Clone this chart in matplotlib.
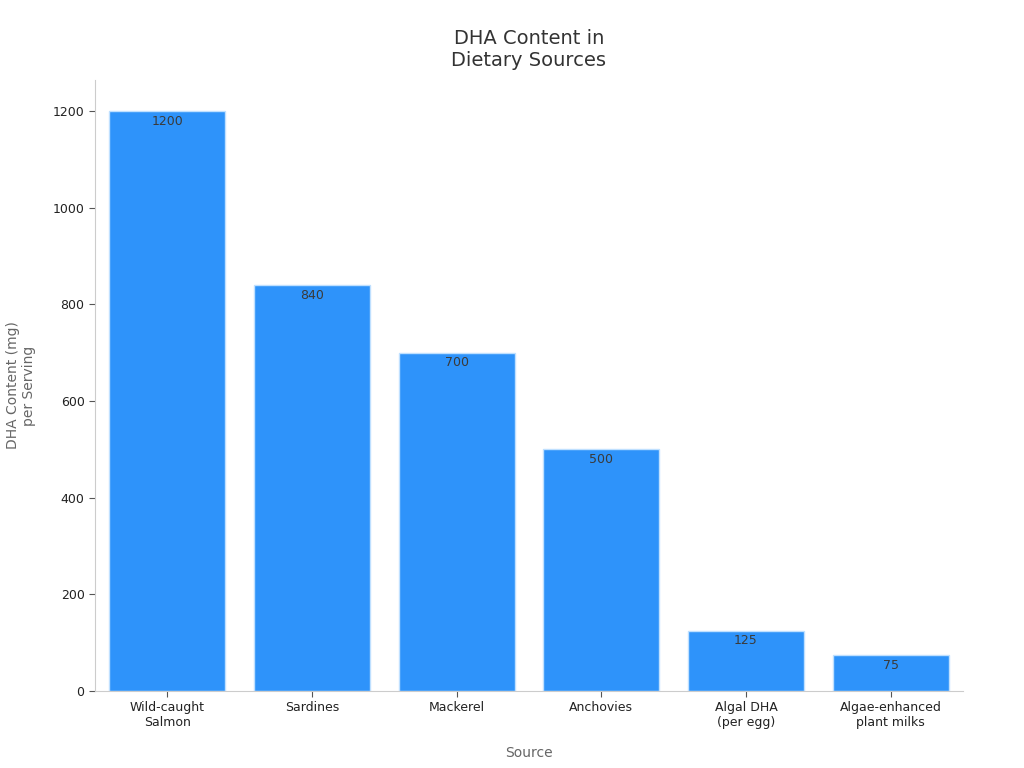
import numpy as np
import matplotlib.pyplot as plt

sources = ["Wild-caught\nSalmon", "Sardines", "Mackerel", "Anchovies",
           "Algal DHA\n(per egg)", "Algae-enhanced\nplant milks"]
dha_mg = [1200, 840, 700, 500, 125, 75]

fig = plt.figure(figsize=(10.24, 7.68), dpi=100)
ax = fig.add_axes([0.0928, 0.1003, 0.8476, 0.7955])

x = np.arange(len(sources))
bars = ax.bar(x, dha_mg, width=0.8, color="#2E93FA", edgecolor="#BFE0FF", linewidth=1)

for b, v in zip(bars, dha_mg):
    ax.text(b.get_x() + b.get_width() / 2, v - 8, str(v), ha="center", va="top",
            fontsize=9, color="#3a3a3a")

ax.set_xlim(-0.5, 5.5)
ax.set_ylim(0, 1264)
ax.set_yticks([0, 200, 400, 600, 800, 1000, 1200])
ax.set_xticks(x)
ax.set_xticklabels(sources, fontsize=9, color="#222222")
ax.tick_params(axis="y", labelsize=9, labelcolor="#222222", color="#555555", length=4)
ax.tick_params(axis="x", color="#555555", length=4)

for s in ["top", "right"]:
    ax.spines[s].set_visible(False)
for s in ["left", "bottom"]:
    ax.spines[s].set_color("#cccccc")

ax.set_xlabel("Source", fontsize=10, color="#666666", labelpad=12)
ax.set_ylabel("DHA Content (mg)\nper Serving", fontsize=10, color="#666666", labelpad=12)
ax.set_title("DHA Content in\nDietary Sources", fontsize=14, color="#333333", pad=10)

fig.savefig("out.png", dpi=100)
